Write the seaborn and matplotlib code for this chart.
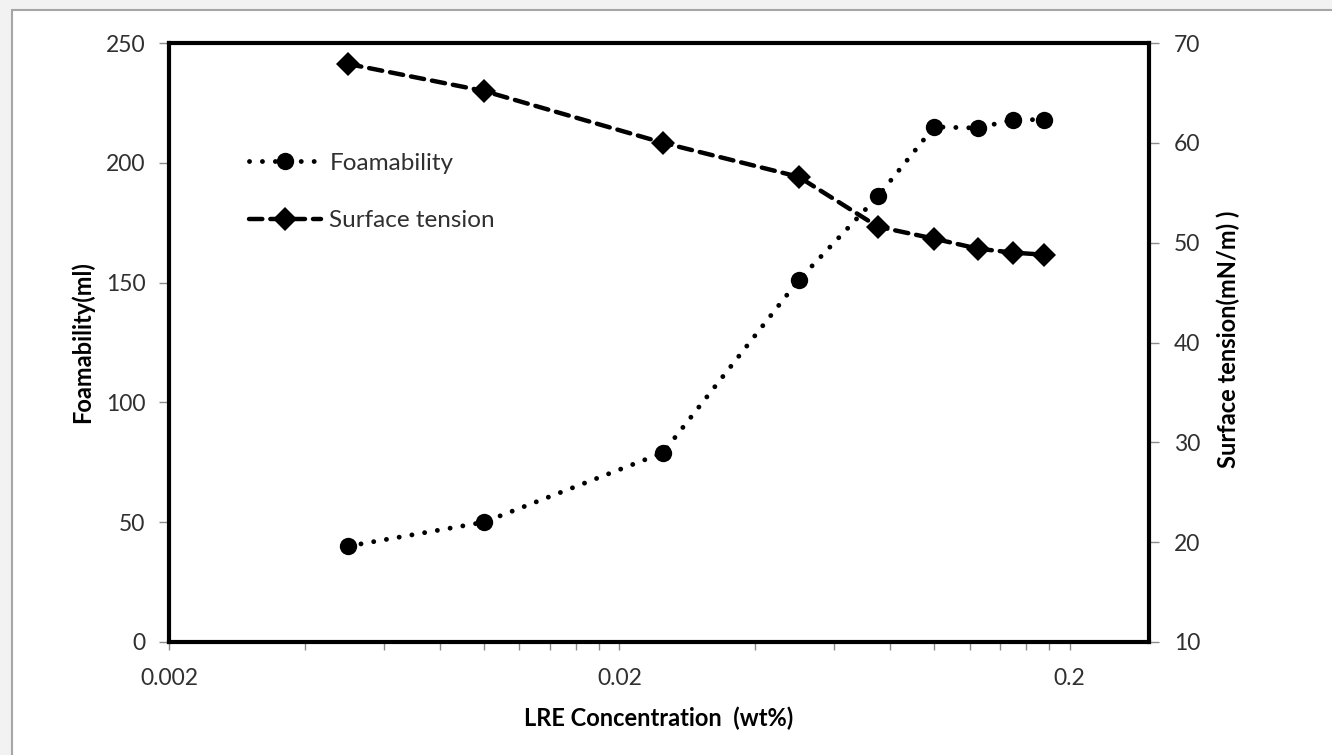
import matplotlib
matplotlib.use("Agg")
import matplotlib.pyplot as plt
import seaborn as sns
from matplotlib.ticker import FixedLocator, NullFormatter
from matplotlib.patches import Rectangle

# ---- data ----
concentration = [0.005, 0.01, 0.025, 0.05, 0.075, 0.1, 0.125, 0.15, 0.175]
foamability = [40, 50, 79, 151, 186, 215, 214.5, 218, 218]
surface_tension = [67.9, 65.2, 60.0, 56.6, 51.6, 50.4, 49.4, 49.0, 48.8]
x_major_ticks = [0.002, 0.02, 0.2]
x_tick_labels = ["0.002", "0.02", "0.2"]
left_ticks = [0, 50, 100, 150, 200, 250]
right_ticks = [10, 20, 30, 40, 50, 60, 70]
series_names = ["Foamability", "Surface tension"]

sns.set_theme(style="white")
plt.rcParams["font.family"] = ["Lato", "DejaVu Sans"]

W, H = 1332, 755
fig = plt.figure(figsize=(W / 100, H / 100), dpi=100, facecolor="#f2f2f2")
fig.patches.append(Rectangle((12 / W, -0.05), 1.1, (H - 10) / H + 0.05,
                             transform=fig.transFigure, facecolor="white",
                             edgecolor="#a6a6a6", linewidth=1.5, zorder=-10))

ax = fig.add_axes([169 / W, 1 - 642 / H, 980 / W, 599 / H])
ax.set_facecolor("white")
ax2 = ax.twinx()

sns.lineplot(x=concentration, y=foamability, ax=ax, color="black", marker="o",
             markersize=12.5, markeredgewidth=0, linewidth=3.5, errorbar=None,
             legend=False)
line_f = ax.lines[-1]
line_f.set_dashes([0.01, 2.65])
line_f.set_dash_capstyle("round")

sns.lineplot(x=concentration, y=surface_tension, ax=ax2, color="black", marker="D",
             markersize=12.5, markeredgewidth=0, linewidth=3.2, errorbar=None,
             legend=False)
line_s = ax2.lines[-1]
line_s.set_dashes([3.0, 1.8])
line_s.set_dash_capstyle("round")

ax.set_xscale("log")
ax.set_xlim(0.002, 0.3)
ax.set_ylim(0, 250)
ax2.set_ylim(10, 70)
ax.set_xticks(x_major_ticks, labels=x_tick_labels)
ax.xaxis.set_minor_locator(FixedLocator([k * m for m in (0.002, 0.02) for k in range(2, 10)]))
ax.xaxis.set_minor_formatter(NullFormatter())
ax.set_yticks(left_ticks)
ax2.set_yticks(right_ticks)

tick_color = "#8c8c8c"
lab_color = "#303030"
fs = 16.5
ax.tick_params(axis="x", which="both", bottom=True, direction="out", length=6,
               width=1, color=tick_color, pad=13, labelsize=fs, labelcolor=lab_color)
ax.tick_params(axis="y", left=True, direction="out", length=7, width=1,
               color=tick_color, pad=10, labelsize=fs, labelcolor=lab_color)
ax2.tick_params(axis="y", right=True, direction="out", length=7, width=1,
                color=tick_color, pad=11, labelsize=fs, labelcolor=lab_color)

for s in ("left", "bottom", "top"):
    ax.spines[s].set_linewidth(3)
    ax.spines[s].set_color("black")
ax.spines["right"].set_visible(False)
for s in ("left", "bottom", "top"):
    ax2.spines[s].set_visible(False)
ax2.spines["right"].set_linewidth(3)
ax2.spines["right"].set_color("black")

lfs = 17
ax.set_xlabel("LRE Concentration  (wt%)", fontsize=lfs, fontweight="bold", color="black")
ax.xaxis.set_label_coords(0.5, -0.127)
ax.xaxis.label.set_va("center")
ax.set_ylabel("Foamability(ml)", fontsize=lfs, fontweight="bold", color="black")
ax.yaxis.set_label_coords(-0.0888, 0.5)
ax.yaxis.label.set_va("center")
ax2.set_ylabel("Surface tension(mN/m) )", fontsize=lfs, fontweight="bold",
               color="black", rotation=90)
ax2.yaxis.set_label_coords(1.0806, 0.505)
ax2.yaxis.label.set_va("center")

leg = ax2.legend([line_f, line_s], series_names, loc="upper left",
                 bbox_to_anchor=(0.082, 0.817), frameon=False, fontsize=17.5,
                 borderpad=0, borderaxespad=0, handlelength=2.96,
                 handletextpad=0.33, labelspacing=1.5, numpoints=1)
for t in leg.get_texts():
    t.set_color(lab_color)

fig.savefig("out.png", dpi=100, facecolor=fig.get_facecolor())
